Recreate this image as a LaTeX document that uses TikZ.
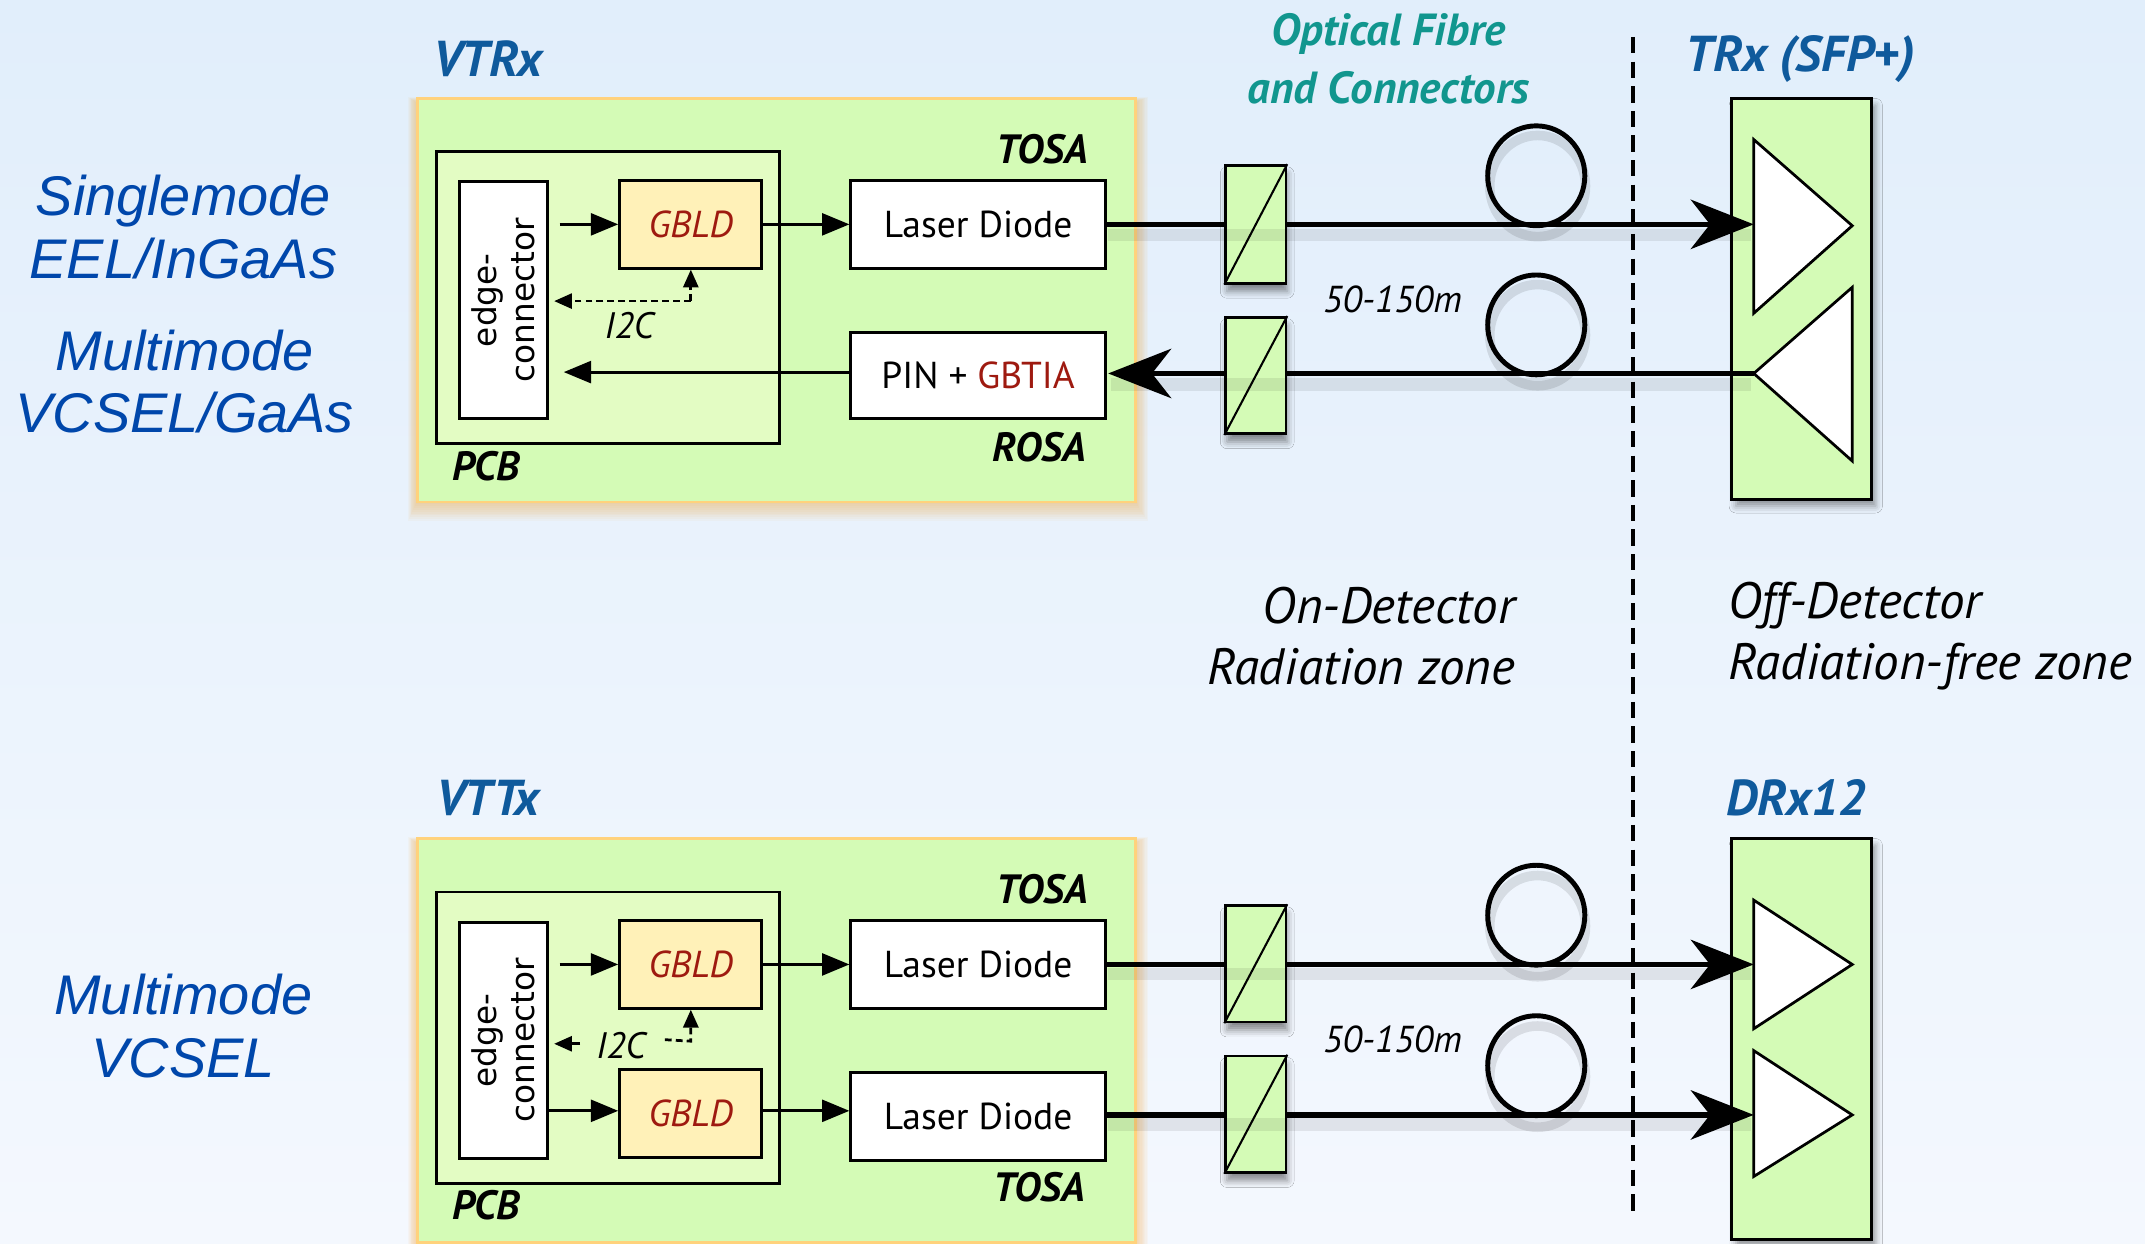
\documentclass[tikz,border=0pt]{standalone}
\usepackage{fontspec}
\setmainfont{PT Sans}
\newfontfamily\arialf{Liberation Sans}
\newfontfamily\dejavu{DejaVu Sans}
\usetikzlibrary{arrows.meta,calc,shadows.blur}
\definecolor{bgtop}{HTML}{E1EEFB}
\definecolor{bgbot}{HTML}{F4F8FE}
\definecolor{boxgreen}{HTML}{D4FBB6}
\definecolor{pcbgreen}{HTML}{E3FCC3}
\definecolor{gbldfill}{HTML}{FFF1B8}
\definecolor{gbldred}{HTML}{9E1A10}
\definecolor{orangeb}{HTML}{FFD27C}
\definecolor{glow}{HTML}{F5A940}
\definecolor{tblue}{HTML}{0F5A9C}
\definecolor{lblue}{HTML}{0047AB}
\definecolor{teal}{HTML}{11968E}
\newcommand{\lblfont}{\fontsize{27.5}{32}\selectfont}
\newcommand{\tagfont}{\fontsize{30}{34}\selectfont\bfseries\itshape}
\newcommand{\ttlfont}{\fontsize{37}{44}\selectfont\bfseries\itshape}
\newcommand{\zonefont}{\fontsize{37.5}{45}\selectfont\itshape}
\newcommand{\lenfont}{\fontsize{27.5}{32}\selectfont\itshape}
\newcommand{\icfont}{\fontsize{27}{32}\selectfont\itshape}
\newcommand{\sidefont}{\arialf\itshape\fontsize{41}{46}\selectfont}
\tikzset{
  outerbox/.style={draw=orangeb, line width=2bp, fill=boxgreen, inner sep=0},
  pcbbox/.style={draw=black, line width=2bp, fill=pcbgreen, inner sep=0},
  wbox/.style={draw=black, line width=2.2bp, fill=white, inner sep=0, font=\lblfont},
  gbldbox/.style={draw=black, line width=2.2bp, fill=gbldfill, inner sep=0, text=gbldred, font=\lblfont\itshape},
  connbox/.style={draw=black, line width=2bp, fill=boxgreen, inner sep=0,
    blur shadow={shadow xshift=1bp, shadow yshift=-6bp, shadow blur radius=5bp, shadow opacity=45}},
  rxbox/.style={draw=black, line width=2.2bp, fill=boxgreen, inner sep=0,
    blur shadow={shadow xshift=3bp, shadow yshift=-5bp, shadow blur radius=5bp, shadow opacity=40}},
  fiber/.style={line width=4bp},
  fibershadow/.style={line width=9bp, black, opacity=0.08},
  bigtip/.style={-{Stealth[length=46bp, width=36bp, inset=14bp]}},
  sig/.style={line width=2.2bp, -{Triangle[length=20bp, width=16bp]}},
  i2c/.style={line width=2bp, dash pattern=on 5bp off 3bp},
  smtip/.style={-{Triangle[length=13bp, width=11bp]}},
  tri/.style={draw=black, line width=2bp, fill=white, line join=miter},
  loop/.style={line width=3.6bp},
}
\begin{document}
\begin{tikzpicture}[x=1bp, y=-1bp]
\useasboundingbox (0,0) rectangle (1568,909);
\shade[top color=bgtop, bottom color=bgbot] (0,0) rectangle (1568,909);

% ---------- side labels
\node[font=\sidefont, text=lblue, align=center] (lab1) at (134,166) {Singlemode\\EEL/InGaAs};
\node[font=\sidefont, text=lblue, align=center] (lab2) at (135,279) {Multimode\\VCSEL/GaAs};
\node[font=\sidefont, text=lblue, align=center] (lab3) at (134,750) {Multimode\\VCSEL};

% ---------- titles
\node[font=\ttlfont, text=tblue] (tvtrx) at (357,43) {VTRx};
\node[font=\ttlfont, text=tblue] (ttrx) at (1316,43) {TRx (SFP+)};
\node[font=\ttlfont, text=tblue] (tvttx) at (357,583) {VTTx};
\node[font=\ttlfont, text=tblue] (tdrx) at (1313,583) {DRx12};
\node[font=\fontsize{33}{43}\selectfont\bfseries\itshape, text=teal, align=center] (tfib) at (1015,43) {Optical Fibre\\and Connectors};
\node[font=\zonefont, align=right, anchor=east] (zon) at (1111,465) {On-Detector\\Radiation zone};
\node[font=\zonefont, align=left, anchor=west] (zoff) at (1260,465) {Off-Detector\\Radiation-free zone};

% ---------- zone divider
\draw[line width=3bp, dash pattern=on 12bp off 6bp] (1194,27) coordinate (dtop) -- (1194,890) coordinate (dbot);

% ================= VTRx =================
\foreach \k in {1,...,10}
  \fill[glow, opacity=0.05] (305-\k*0.7,72+3-\k*0.4) rectangle (830+\k*0.9,367+\k*1.4);
\node[outerbox, minimum width=525bp, minimum height=295bp] (vtrx) at (567.5,219.5) {};
\node[pcbbox, minimum width=251bp, minimum height=213bp] (pcb1) at (444.5,217.5) {};
\node[wbox, minimum width=64bp, minimum height=173bp] (edge1) at (368,219.5) {};
\node[rotate=90, align=center, font=\dejavu\fontsize{24}{28}\selectfont] (edge1t) at (edge1) {edge-\\connector};
\node[gbldbox, minimum width=104bp, minimum height=64bp] (gbld1) at (505,164) {GBLD};
\node[wbox, minimum width=186bp, minimum height=64bp] (ld1) at (715,164) {Laser Diode};
\node[wbox, minimum width=186bp, minimum height=63bp] (pin) at (715,274.5) {PIN + \textcolor{gbldred}{GBTIA}};
\node[font=\tagfont] (tosa1) at (762,109) {TOSA};
\node[font=\tagfont] (rosa1) at (760,327) {ROSA};
\node[font=\tagfont] (pcbt1) at (355,341) {PCB};
\node[font=\icfont] (i2ct1) at (460,238) {I2C};

\draw[sig] ($(edge1.east |- gbld1.west)+(8,0)$) -- (gbld1.west);
\draw[sig] (gbld1.east) -- (ld1.west);
\draw[sig] (pin.west |- 0,272) -- ($(edge1.east |- 0,272)+(11,0)$);
\coordinate (i2ca) at ($(gbld1.south)+(0,23)$);
\coordinate (i2cb) at ($(edge1.east |- i2ca)+(4,0)$);
\draw[i2c, smtip] (i2ca) -- (i2cb);
\draw[i2c, smtip] (i2ca) -- (gbld1.south);

% connectors
\node[connbox, minimum width=44bp, minimum height=86bp] (c1) at (918,164) {};
\node[connbox, minimum width=44bp, minimum height=85bp] (c2) at (918,274.5) {};
\draw[line width=1.5bp] (c1.south west) -- (c1.north east);
\draw[line width=1.5bp] (c2.south west) -- (c2.north east);

% TRx
\node[rxbox, minimum width=102bp, minimum height=293bp] (trx) at (1317,218.5) {};
\draw[tri] (1282,102) coordinate (ta1) -- (1282,229) -- (1354,165) coordinate (ta2) -- cycle;
\coordinate (tin1) at (1282,164);
\draw[tri] (1354,210) -- (1354,337) -- (1282,273) coordinate (tout1) -- cycle;

% fibres
\draw[fibershadow] (810,172) -- (1280,172);
\draw[fibershadow] (812,281) -- (1280,281);
\draw[fiber] (ld1.east) -- (c1.west);
\draw[fiber, bigtip] (c1.east) -- (tin1);
\draw[fiber] (tout1) -- (c2.east |- tout1);
\draw[fiber, bigtip] (c2.west |- tout1) -- ($(pin.east |- tout1)+(1,0)$);
\draw[loop, black, opacity=0.10, line width=7bp] (1124,136) ellipse [x radius=35, y radius=37];
\draw[loop] (1123,128.5) ellipse [x radius=35.5, y radius=36.5] coordinate (loop1);
\draw[loop, black, opacity=0.10, line width=7bp] (1124,245) ellipse [x radius=35, y radius=37];
\draw[loop] (1123,237.5) ellipse [x radius=35.5, y radius=36.5] coordinate (loop2);
\node[font=\lenfont] (len1) at (1018,219) {50-150m};

% ================= VTTx =================
\foreach \k in {1,...,10}
  \fill[glow, opacity=0.05] (305-\k*0.7,613+3-\k*0.4) rectangle (830+\k*0.9,908+\k*1.4);
\node[outerbox, minimum width=525bp, minimum height=295bp] (vttx) at (567.5,760.5) {};
\node[pcbbox, minimum width=251bp, minimum height=213bp] (pcb2) at (444.5,758.5) {};
\node[wbox, minimum width=64bp, minimum height=173bp] (edge2) at (368,760.5) {};
\node[rotate=90, align=center, font=\dejavu\fontsize{24}{28}\selectfont] (edge2t) at (edge2) {edge-\\connector};
\node[gbldbox, minimum width=104bp, minimum height=64bp] (gbld2) at (505,705) {GBLD};
\node[gbldbox, minimum width=104bp, minimum height=64bp] (gbld3) at (505,814) {GBLD};
\node[wbox, minimum width=186bp, minimum height=64bp] (ld2) at (715,705) {Laser Diode};
\node[wbox, minimum width=186bp, minimum height=64bp] (ld3) at (715,816) {Laser Diode};
\node[font=\tagfont] (tosa2) at (762,650) {TOSA};
\node[font=\tagfont] (tosa3) at (760,868) {TOSA};
\node[font=\tagfont] (pcbt2) at (355,881) {PCB};
\node[font=\icfont] (i2ct2) at (454,764) {I2C};

\draw[sig] ($(edge2.east |- gbld2.west)+(8,0)$) -- (gbld2.west);
\draw[sig] (gbld2.east) -- (ld2.west);
\draw[sig] (edge2.east |- 0,812) -- (gbld3.west |- 0,812);
\draw[sig] (gbld3.east |- 0,812) -- (ld3.west |- 0,812);
\coordinate (i2cc) at ($(gbld2.south)+(0,23)$);
\draw[i2c, smtip] (486,760) -- (i2cc) -- (gbld2.south);
\coordinate (i2cd) at ($(edge2.east |- 0,763)+(4,0)$);
\draw[line width=2bp, smtip] (424,763) -- (i2cd);

\node[connbox, minimum width=44bp, minimum height=85bp] (c3) at (918,704.5) {};
\node[connbox, minimum width=44bp, minimum height=85bp] (c4) at (918,814.5) {};
\draw[line width=1.5bp] (c3.south west) -- (c3.north east);
\draw[line width=1.5bp] (c4.south west) -- (c4.north east);

\node[rxbox, minimum width=102bp, minimum height=293bp] (drx) at (1317,759.5) {};
\draw[tri] (1282,658) -- (1282,752) -- (1354,705) -- cycle;
\coordinate (tin2) at (1282,705);
\draw[tri] (1282,768) -- (1282,860) -- (1354,815) -- cycle;
\coordinate (tin3) at (1282,815);

\draw[fibershadow] (810,712) -- (1280,712);
\draw[fibershadow] (810,822) -- (1280,822);
\draw[fiber] (ld2.east |- tin2) -- (c3.west |- tin2);
\draw[fiber, bigtip] (c3.east |- tin2) -- (tin2);
\draw[fiber] (ld3.east |- tin3) -- (c4.west |- tin3);
\draw[fiber, bigtip] (c4.east |- tin3) -- (tin3);
\draw[loop, black, opacity=0.10, line width=7bp] (1124,677) ellipse [x radius=35, y radius=37];
\draw[loop] (1123,669) ellipse [x radius=35.5, y radius=36.5] coordinate (loop3);
\draw[loop, black, opacity=0.10, line width=7bp] (1124,787) ellipse [x radius=35, y radius=37];
\draw[loop] (1123,779) ellipse [x radius=35.5, y radius=36.5] coordinate (loop4);
\node[font=\lenfont] (len2) at (1018,760) {50-150m};
\end{tikzpicture}
\end{document}
